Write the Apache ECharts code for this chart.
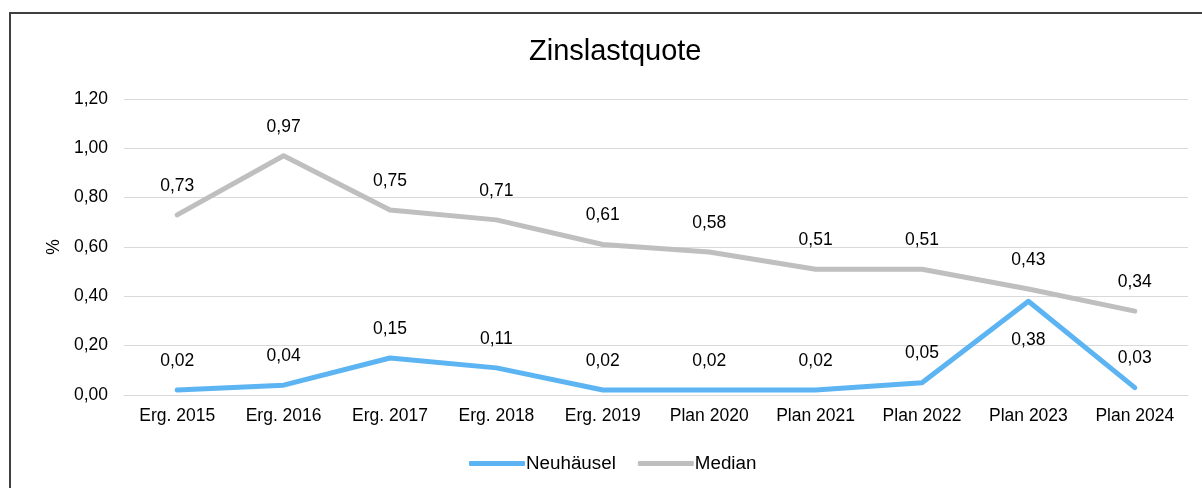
<!DOCTYPE html>
<html>
<head>
<meta charset="utf-8">
<script src="https://cdn.jsdelivr.net/npm/echarts@6/dist/echarts.min.js"></script>
<style>
  html, body { margin: 0; padding: 0; background: #fff; overflow: hidden; }
  #frame { position: absolute; left: 9px; top: 12px; width: 1300px; height: 600px; border: 2px solid #404040; }
  #main { position: absolute; left: 0; top: 0; width: 1202px; height: 488px; }
</style>
</head>
<body>
<div id="frame"></div>
<div id="main"></div>
<script>
const categories = ['Erg. 2015', 'Erg. 2016', 'Erg. 2017', 'Erg. 2018', 'Erg. 2019',
  'Plan 2020', 'Plan 2021', 'Plan 2022', 'Plan 2023', 'Plan 2024'];
const neuhaeusel = [0.02, 0.04, 0.15, 0.11, 0.02, 0.02, 0.02, 0.05, 0.38, 0.03];
const median = [0.73, 0.97, 0.75, 0.71, 0.61, 0.58, 0.51, 0.51, 0.43, 0.34];

const fmt = v => v.toFixed(2).replace('.', ',');
const font = 'Liberation Sans, Arial, sans-serif';
const fs = 17.5;

const myChart = echarts.init(document.getElementById('main'));
const option = {
  animation: false,
  title: {
    text: 'Zinslastquote',
    left: 524,
    top: 32,
    textStyle: { fontFamily: font, fontSize: 29, fontWeight: 'normal', color: '#000' }
  },
  grid: { left: 124, right: 14, top: 99, bottom: 93 },
  legend: {
    bottom: 10,
    left: 464,
    itemWidth: 56,
    itemHeight: 5,
    itemGap: 22,
    icon: 'roundRect',
    textStyle: { fontFamily: font, fontSize: 18.8, color: '#000', padding: [0, 0, 0, -4] },
    data: ['Neuhäusel', 'Median']
  },
  xAxis: {
    type: 'category',
    data: categories,
    axisLine: { lineStyle: { color: '#d9d9d9', width: 1 } },
    axisTick: { show: false },
    axisLabel: { fontFamily: font, fontSize: fs, color: '#000', margin: 12 }
  },
  yAxis: {
    type: 'value',
    min: 0,
    max: 1.2,
    interval: 0.2,
    name: '%',
    nameLocation: 'middle',
    nameGap: 60,
    nameTextStyle: { fontFamily: font, fontSize: fs, color: '#000' },
    axisLabel: { fontFamily: font, fontSize: fs, color: '#000', margin: 16, formatter: fmt },
    splitLine: { lineStyle: { color: '#d9d9d9', width: 1 } }
  },
  series: [
    {
      name: 'Neuhäusel',
      type: 'line',
      data: neuhaeusel.map((v, i) => i === 8
        ? { value: v, label: { position: 'bottom', distance: 30 } }
        : v),
      color: '#5db4f2',
      lineStyle: { width: 5, cap: 'round', join: 'round' },
      symbol: 'circle',
      symbolSize: 0,
      label: {
        show: true, position: 'top', distance: 20,
        fontFamily: font, fontSize: fs, color: '#000',
        formatter: p => fmt(p.value)
      }
    },
    {
      name: 'Median',
      type: 'line',
      data: median,
      color: '#bfbfbf',
      lineStyle: { width: 5, cap: 'round', join: 'round' },
      symbol: 'circle',
      symbolSize: 0,
      label: {
        show: true, position: 'top', distance: 20,
        fontFamily: font, fontSize: fs, color: '#000',
        formatter: p => fmt(p.value)
      }
    }
  ]
};
myChart.setOption(option);
</script>
</body>
</html>
